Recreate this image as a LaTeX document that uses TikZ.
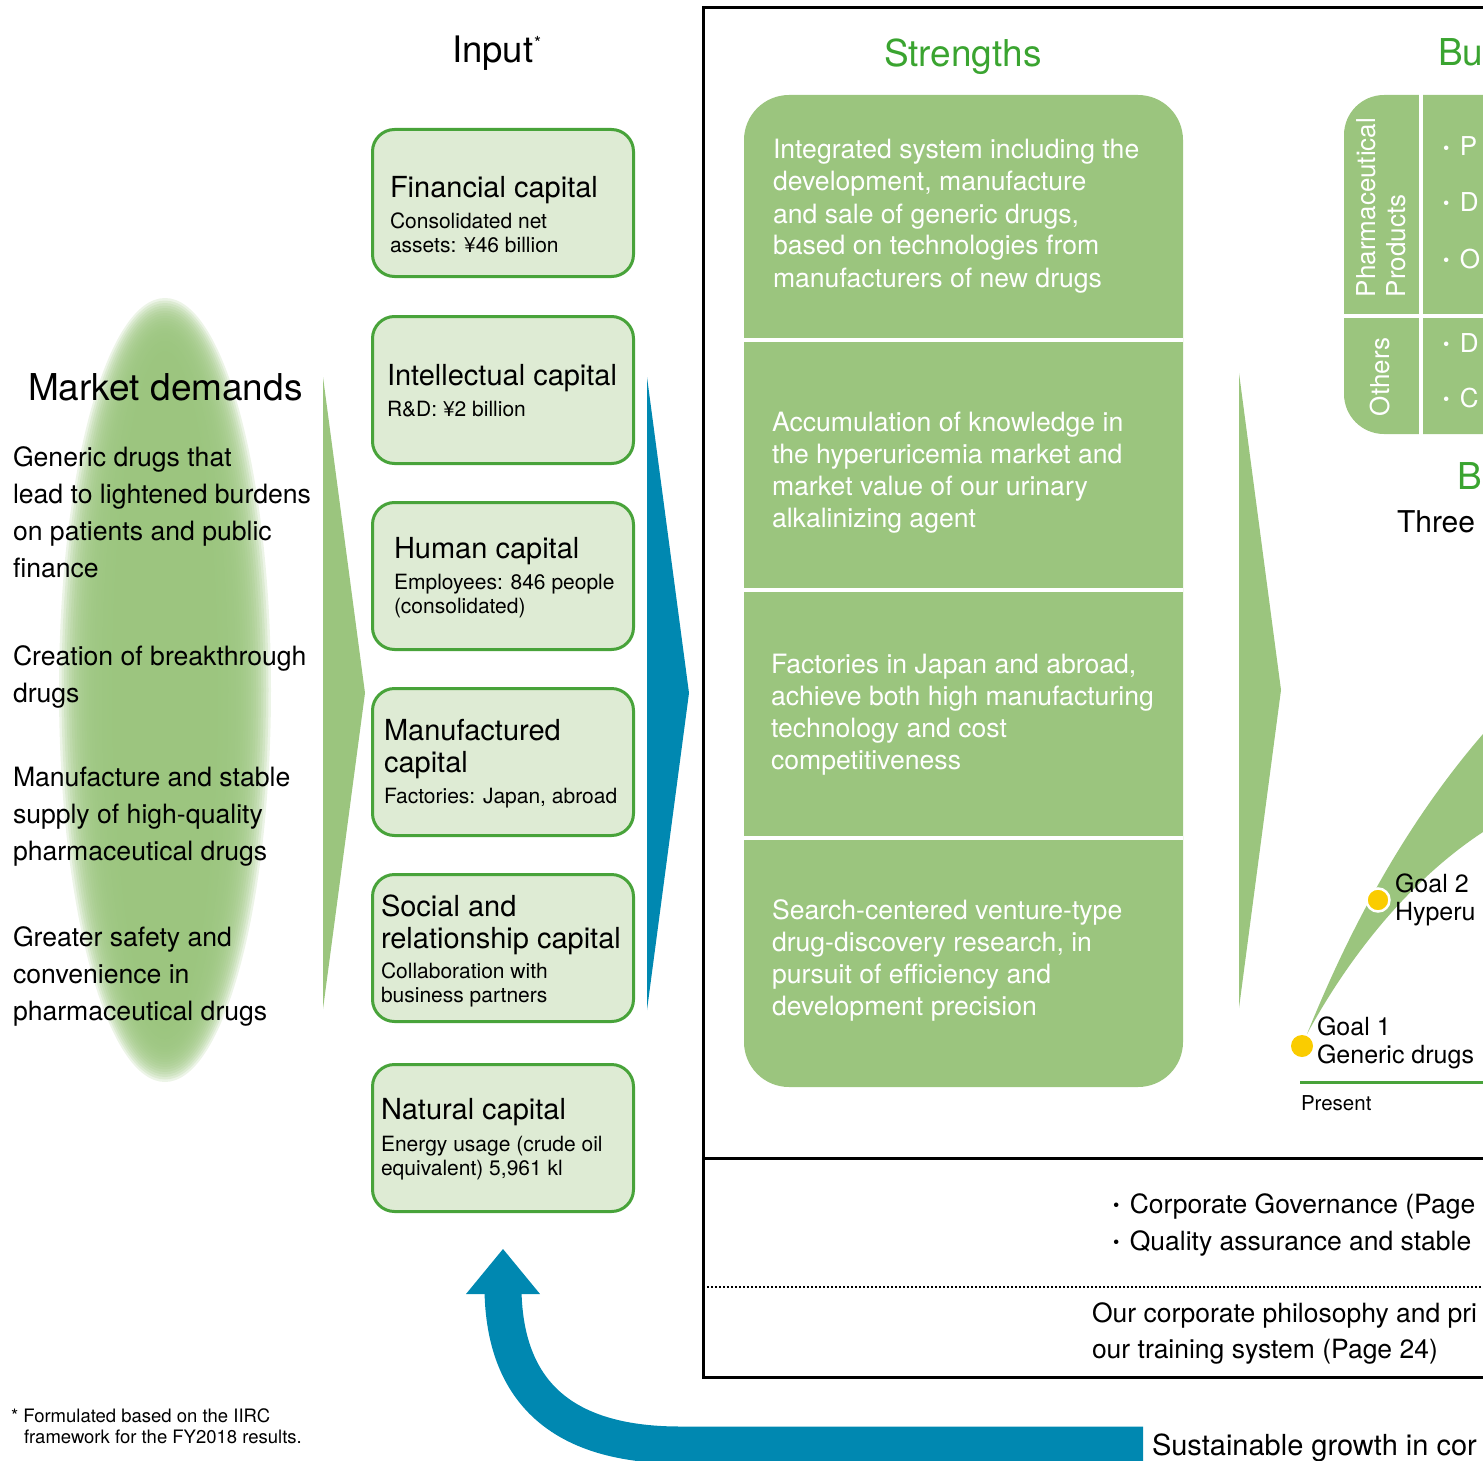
\documentclass[tikz,border=0pt]{standalone}
\usepackage{fontspec}
\setmainfont{TeX Gyre Heros}
\definecolor{bandgreen}{RGB}{155,197,126}
\definecolor{boxfill}{RGB}{222,235,212}
\definecolor{boxline}{RGB}{72,163,58}
\definecolor{titlegreen}{RGB}{58,164,48}
\definecolor{flowblue}{RGB}{0,136,177}
\definecolor{goalyellow}{RGB}{250,204,0}
\newcommand\myfs[2]{\fontsize{#1}{#2}\selectfont}
\newcommand\ml[1]{\vtop{\let\\\cr\halign{##\hfil\cr#1\crcr}}}
\newcommand\dotb{\raisebox{1.5pt}{\myfs{18}{18}•}\hspace{10.5pt}}
\tikzset{
  txt/.style={anchor=base west, inner sep=0pt, outer sep=0pt},
  capbox/.style={draw=boxline, line width=3pt, fill=boxfill, rounded corners=22pt,
    minimum width=261pt, minimum height=147pt, inner sep=0pt},
  captitle/.style={txt, font=\myfs{29}{32}},
  capsub/.style={txt, font=\myfs{21}{24}},
  strtext/.style={txt, text=white, font=\myfs{26.6}{32}},
  demand/.style={txt, font=\myfs{26.6}{37}},
  heading/.style={txt, font=\myfs{37}{40}},
  bizitem/.style={txt, text=white, font=\myfs{26}{30}},
  goaltext/.style={txt, font=\myfs{25}{28.5}},
  bottomtext/.style={txt, font=\myfs{26.5}{37}},
  goaldot/.style={circle, fill=goalyellow, minimum size=23pt, inner sep=0pt},
  flowtri/.style={fill=bandgreen}
}
\begin{document}
\begin{tikzpicture}[x=1pt,y=-1pt]
\useasboundingbox (0,0) rectangle (1483,1461);
\clip (0,0) rectangle (1483,1461);

% ---------- market demands: blurred ellipse ----------
\foreach \i in {0,...,21}
  \fill[bandgreen, opacity=0.19] (165,690) ellipse [x radius={(106-2.5*\i)*1pt}, y radius={(392-2.5*\i)*1pt}];
\node[heading] (mdhead) at (28,400) {Market demands};
\node[demand] (d1) at (13,466) {\ml{Generic drugs that\\lead to lightened burdens\\on patients and public\\finance}};
\node[demand] (d2) at (13,665) {\ml{Creation of breakthrough\\drugs}};
\node[demand] (d3) at (13,786) {\ml{Manufacture and stable\\supply of high-quality\\pharmaceutical drugs}};
\node[demand] (d4) at (13,946) {\ml{Greater safety and\\convenience in\\pharmaceutical drugs}};

% ---------- flow triangles ----------
\fill[flowtri] (323,377) -- (365,693) -- (323,1009) -- cycle;
\fill[flowblue] (647,377) -- (689,693) -- (647,1010) -- cycle;
\fill[flowtri] (1239,373) -- (1281,690) -- (1239,1008) -- cycle;

% ---------- input ----------
\node[heading, font=\myfs{36.5}{40}] (inhead) at (452,63) {Input};
\node[txt, font=\myfs{18}{20}] (inast) at (534,50) {*};

\node[capbox] (fin) at (503,203) {};
\node[captitle] (fint) at (390,197) {Financial capital};
\node[capsub] (fins) at (390,228) {\ml{Consolidated net\\assets: ¥46 billion}};

\node[capbox] (intl) at (503,390) {};
\node[captitle] (intlt) at (387,385) {Intellectual capital};
\node[capsub] (intls) at (387,416) {R\&D: ¥2 billion};

\node[capbox] (hum) at (503,576) {};
\node[captitle] (humt) at (394,558) {Human capital};
\node[capsub] (hums) at (394,589) {\ml{Employees: 846 people\\(consolidated)}};

\node[capbox] (manu) at (503,762) {};
\node[captitle] (manut) at (384,740) {\ml{Manufactured\\capital}};
\node[capsub] (manus) at (384,803) {Factories: Japan, abroad};

\node[capbox] (soc) at (503,948) {};
\node[captitle] (soct) at (381,916) {\ml{Social and\\relationship capital}};
\node[capsub] (socs) at (381,978) {\ml{Collaboration with\\business partners}};

\node[capbox] (nat) at (503,1138) {};
\node[captitle] (natt) at (381,1119) {Natural capital};
\node[capsub] (nats) at (381,1151) {\ml{Energy usage (crude oil\\equivalent) 5,961 kl}};

% ---------- strengths ----------
\node[heading, text=titlegreen] (strhead) at (884,67) {Strengths};
\fill[bandgreen, rounded corners=45pt] (744,95) rectangle (1183,1087);
\draw[white, line width=4pt] (744,340) -- (1183,340);
\draw[white, line width=4pt] (744,590) -- (1183,590);
\draw[white, line width=4pt] (744,838) -- (1183,838);
\node[strtext] (s1) at (773,159) {\ml{Integrated system including the\\development, manufacture\\and sale of generic drugs,\\based on technologies from\\manufacturers of new drugs}};
\node[strtext] (s2) at (772,431) {\ml{Accumulation of knowledge in\\the hyperuricemia market and\\market value of our urinary\\alkalinizing agent}};
\node[strtext] (s3) at (771,673) {\ml{Factories in Japan and abroad,\\achieve both high manufacturing\\technology and cost\\competitiveness}};
\node[strtext] (s4) at (772,919) {\ml{Search-centered venture-type\\drug-discovery research, in\\pursuit of efficiency and\\development precision}};

% ---------- business ----------
\node[heading, text=titlegreen] (buhead) at (1438,66) {Bu};
\fill[bandgreen, rounded corners=40pt] (1344,95) rectangle (1640,434);
\draw[white, line width=4pt] (1420.5,90) -- (1420.5,440);
\draw[white, line width=4pt] (1340,316) -- (1490,316);
\node[bizitem, rotate=90] (pharm1) at (1375,297) {Pharmaceutical};
\node[bizitem, rotate=90] (pharm2) at (1405,297) {Products};
\node[bizitem, rotate=90] (others) at (1389,416) {Others};
\node[bizitem] (b1) at (1443,156) {\dotb P};
\node[bizitem] (b2) at (1443,211) {\dotb D};
\node[bizitem] (b3) at (1443,268) {\dotb O};
\node[bizitem] (b4) at (1443,352) {\dotb D};
\node[bizitem] (b5) at (1443,407) {\dotb C};

\node[heading, text=titlegreen] (bhead) at (1457,489) {B};
\node[txt, font=\myfs{30}{34}] (three) at (1397,532) {Three};

% ---------- goals curve ----------
\fill[bandgreen] (1307,1034) .. controls (1345,940) and (1400,830) .. (1483,734)
  -- (1490,734) -- (1490,832) -- (1483,832) .. controls (1410,880) and (1350,955) .. (1307,1034) -- cycle;
\node[goaldot, draw=white, line width=2.5pt] (goal2) at (1378,900) {};
\node[goaldot, minimum size=22pt] (goal1) at (1302,1046) {};
\node[goaltext] (g2t) at (1395,892) {\ml{Goal 2\\Hyperu}};
\node[goaltext] (g1t) at (1317,1035) {\ml{Goal 1\\Generic drugs}};
\draw[boxline, line width=3pt] (1300,1082) -- (1490,1082);
\node[txt, font=\myfs{20.5}{24}] (present) at (1301,1110) {Present};

% ---------- frame ----------
\draw[black, line width=3pt] (1495,8) -| (703,1377) -- (1495,1377);
\draw[black, line width=3pt] (703,1158) -- (1495,1158);
\draw[black, line width=2pt, dotted] (703,1287) -- (1495,1287);
\node[bottomtext] (gov1) at (1113,1213) {\dotb Corporate Governance (Page};
\node[bottomtext] (gov2) at (1113,1250) {\dotb Quality assurance and stable};
\node[bottomtext, font=\myfs{26.5}{36}] (phil) at (1092,1322) {\ml{Our corporate philosophy and pri\\our training system (Page 24)}};

% ---------- feedback loop ----------
\node[txt, font=\myfs{29}{32}] (sust) at (1152,1455) {Sustainable growth in cor};
\coordinate (loopA) at (1143,1445);
\coordinate (loopB) at (503,1291);
\draw[flowblue, line width=37pt] (loopA) -- (680,1445) .. controls (560,1445) and (505,1390) .. (loopB);
\fill[flowblue] (466,1294) -- (503,1249) -- (540,1294) -- cycle;

% ---------- footnote ----------
\node[txt, font=\myfs{18.5}{22}] (foot1) at (11,1422) {* Formulated based on the IIRC};
\node[txt, font=\myfs{18.5}{22}] (foot2) at (24,1443) {framework for the FY2018 results.};
\end{tikzpicture}
\end{document}
